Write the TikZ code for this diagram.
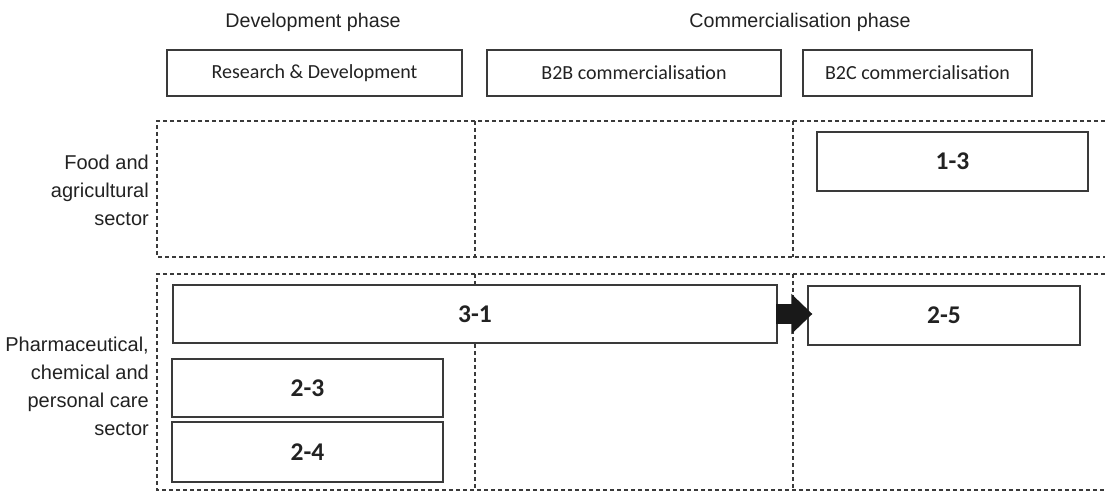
\documentclass[tikz,border=0pt]{standalone}
\usepackage{fontspec}
\setmainfont{Liberation Sans}
\newfontfamily\carl{Carlito}
\usetikzlibrary{arrows.meta}
\definecolor{boxline}{HTML}{3A3A3A}
\definecolor{txt}{HTML}{222222}
\begin{document}
\begin{tikzpicture}[x=1pt,y=-1pt,
  hdrbox/.style={draw=boxline,line width=1.1pt,inner sep=0pt,text=txt,font=\carl\fontsize{20}{24}\selectfont},
  numbox/.style={draw=boxline,line width=1.3pt,inner sep=0pt,text=txt,font=\carl\bfseries\fontsize{25.5}{28}\selectfont},
  phase/.style={text=txt,font=\fontsize{19.7}{22}\selectfont,inner sep=0pt},
  sector/.style={text=txt,font=\fontsize{20}{28}\selectfont,align=right,inner sep=0pt,anchor=east},
  region/.style={draw=boxline,line width=1.1pt,dash pattern=on 4pt off 3pt}
]
\useasboundingbox (0,0) rectangle (1105,492);
% phase titles
\node[phase] (devph) at (313,22) {Development phase};
\node[phase] (comph) at (800,22) {Commercialisation phase};
% header boxes
\node[hdrbox,minimum width=295pt,minimum height=46pt] (hrd) at (314.5,73) {Research \& Development};
\node[hdrbox,minimum width=294pt,minimum height=46pt] (hbb) at (634,73) {B2B commercialisation};
\node[hdrbox,minimum width=229pt,minimum height=46pt] (hbc) at (917.5,73) {B2C commercialisation};
% dashed regions
\coordinate (uTL) at (157,121);
\coordinate (uBL) at (157,257);
\coordinate (uTR) at (1105,121);
\coordinate (uBR) at (1105,257);
\coordinate (lTL) at (157,274);
\coordinate (lBL) at (157,490);
\coordinate (lTR) at (1105,274);
\coordinate (lBR) at (1105,490);
\draw[region] (uTR) -- (uTL) -- (uBL) -- (uBR);
\draw[region] (475,121) -- (475,257);
\draw[region] (793,121) -- (793,257);
\draw[region] (lTR) -- (lTL) -- (lBL) -- (lBR);
\draw[region] (475,274) -- (475,490);
\draw[region] (793,274) -- (793,490);
% sector labels
\node[sector] (food) at (149,190) {Food and\\agricultural\\sector};
\node[sector] (pharm) at (149,386) {Pharmaceutical,\\chemical and\\personal care\\sector};
% numbered boxes
\node[numbox,fill=white,minimum width=271pt,minimum height=59pt] (b13) at (952.5,161.5) {1-3};
\node[numbox,fill=white,minimum width=604pt,minimum height=58pt] (b31) at (475,314) {3-1};
\node[numbox,fill=white,minimum width=272pt,minimum height=59pt] (b25) at (944,315.5) {2-5};
\node[numbox,fill=white,minimum width=271pt,minimum height=58pt] (b23) at (307.5,388) {2-3};
\node[numbox,fill=white,minimum width=271pt,minimum height=60pt] (b24) at (307.5,452) {2-4};
% arrow
\draw[draw=black!90,line width=20pt,-{Triangle[length=21pt,width=39pt]},shorten <=-1.5pt,shorten >=-5pt]
  (b31.east) -- (b25.west |- b31.east);
\end{tikzpicture}
\end{document}
